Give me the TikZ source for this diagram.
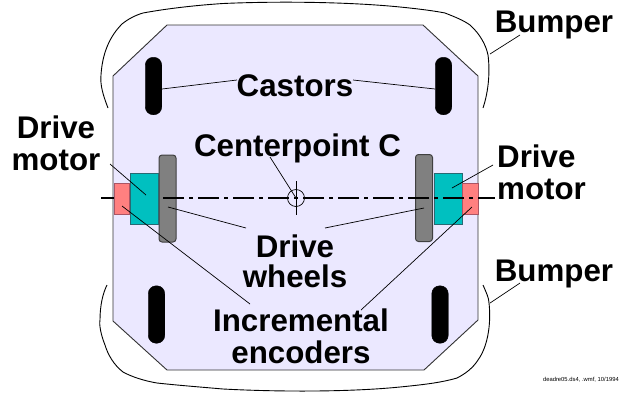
\documentclass[tikz,border=0pt]{standalone}
\usepackage{fontspec}
\setmainfont{Liberation Sans}
\definecolor{bodyfill}{RGB}{235,232,255}
\definecolor{motorfill}{RGB}{0,192,192}
\definecolor{motoredge}{RGB}{40,105,115}
\definecolor{encfill}{RGB}{255,128,128}
\definecolor{encedge}{RGB}{170,85,100}
\begin{document}
\begin{tikzpicture}[x=1pt,y=-1pt,
  lbl/.style={font=\fontsize{31.3}{32}\selectfont\bfseries,inner sep=0pt,anchor=north,align=center},
  leader/.style={draw=black,line width=0.7pt},
  bumperline/.style={draw=black,line width=0.9pt},
  castor/.style={draw=black,fill=black,rounded corners=8pt,minimum width=16.5pt,minimum height=57.5pt,inner sep=0pt},
  wheel/.style={draw=black!75,fill=black!50,line width=1pt,rounded corners=3pt,minimum width=17pt,minimum height=87pt,inner sep=0pt},
  motor/.style={draw=motoredge,fill=motorfill,line width=1pt,minimum width=28pt,minimum height=51pt,inner sep=0pt},
  encoder/.style={draw=encedge,fill=encfill,line width=1pt,minimum width=15.5pt,minimum height=31pt,inner sep=0pt}]
\useasboundingbox (0,0) rectangle (630,392);
\fill[white] (0,0) rectangle (630,392);
% body
\draw[fill=bodyfill,draw=black!80,line width=0.9pt]
  (167,25) -- (423,25) -- (478,76) -- (478,320) -- (424,370) -- (167,370) -- (113,321) -- (113,76) -- cycle;
% bumpers
\draw[bumperline] (108,108) .. controls (103,95) and (100,85) .. (101,75)
  .. controls (102,60) and (106,40) .. (122,24)
  .. controls (128,19) and (136,15) .. (143,13)
  .. controls (170,8) and (200,5) .. (223,3.5)
  .. controls (280,1) and (350,2) .. (400,7)
  .. controls (420,9) and (435,11) .. (445,13)
  .. controls (455,17) and (463,20) .. (470,25)
  .. controls (480,34) and (486,45) .. (488,55)
  .. controls (490,70) and (489,90) .. (483,108);
\draw[bumperline] (483,285) .. controls (486,292) and (489,298) .. (489,303)
  .. controls (491,320) and (489,345) .. (478,360)
  .. controls (473,368) and (465,374) .. (457,378)
  .. controls (440,383) and (420,385) .. (400,387)
  .. controls (350,392) and (280,392) .. (223,389)
  .. controls (200,387) and (175,385) .. (157,383)
  .. controls (145,381) and (132,377) .. (123,372)
  .. controls (114,365) and (108,355) .. (105,345)
  .. controls (101,335) and (99,325) .. (100,320)
  .. controls (100,305) and (103,293) .. (107,285);
% castors
\node[castor] (castorTL) at (153.5,86) {};
\node[castor] (castorTR) at (443.5,86) {};
\node[castor] (castorBL) at (156.5,314.5) {};
\node[castor] (castorBR) at (440,314.5) {};
% wheels and right drive
\node[wheel] (wheelL) at (167.5,198.5) {};
\node[wheel] (wheelR) at (424,198) {};
\node[motor] (motorR) at (448,199) {};
\node[encoder] (encR) at (470.5,198.5) {};
% axis
\coordinate (axisL) at (101,198);
\coordinate (axisR) at (495,198);
\draw[line width=2pt,dash pattern=on 21pt off 5pt on 4pt off 5pt,dash phase=8pt] (axisL) -- (axisR);
% left drive
\node[motor] (motorL) at (144.5,198.5) {};
\node[encoder] (encL) at (122,198.5) {};
% centerpoint
\coordinate (C) at (296,198);
\node[draw=black,line width=0.7pt,circle,minimum size=17pt,inner sep=0pt] (centerC) at (C) {};
\coordinate (crossT) at (296,181);
\coordinate (crossB) at (296,215);
\draw[leader] (crossT) -- (crossB);
% labels
\node[lbl] (bumperT) at (554,10.5) {Bumper};
\node[lbl] (bumperB) at (554,259.5) {Bumper};
\node[lbl] (castors) at (295,74) {Castors};
\node[lbl] (centerpt) at (297.5,134) {Centerpoint C};
\node[lbl] (dmL) at (56,116) {Drive\\motor};
\node[lbl,align=left,anchor=north west] (dmR) at (497,145) {Drive\\motor};
\node[lbl] (wheels) at (295,235) {Drive\\[-2pt]wheels};
\node[lbl] (enc) at (301,309) {Incremental\\encoders};
\node[font=\fontsize{5.85}{7}\selectfont,inner sep=0pt,anchor=base east] (stamp) at (619,381) {deadre05.ds4, .wmf, 10/1994};
% leader ends
\coordinate (a1) at (162,89);   \coordinate (a2) at (237,80);
\coordinate (b1) at (435,89);   \coordinate (b2) at (353,80);
\coordinate (c1) at (490,54);   \coordinate (c2) at (520,35);
\coordinate (d1) at (490,303);  \coordinate (d2) at (520,283);
\coordinate (e1) at (110,164);  \coordinate (e2) at (146,195);
\coordinate (f1) at (493,165);  \coordinate (f2) at (452,188);
\coordinate (g1) at (270,157);
\coordinate (h1) at (168,207);  \coordinate (h2) at (246,228);
\coordinate (i1) at (325,228);  \coordinate (i2) at (424,208);
\coordinate (j1) at (122,206);  \coordinate (j2) at (250,304);
\coordinate (k1) at (472,207);  \coordinate (k2) at (361,310);
\draw[leader] (a1) -- (a2);
\draw[leader] (b1) -- (b2);
\draw[leader] (c1) -- (c2);
\draw[leader] (d1) -- (d2);
\draw[leader] (e1) -- (e2);
\draw[leader] (f1) -- (f2);
\draw[leader] (g1) -- (C);
\draw[leader] (h1) -- (h2);
\draw[leader] (i1) -- (i2);
\draw[leader] (j1) -- (j2);
\draw[leader] (k1) -- (k2);
\end{tikzpicture}
\end{document}
